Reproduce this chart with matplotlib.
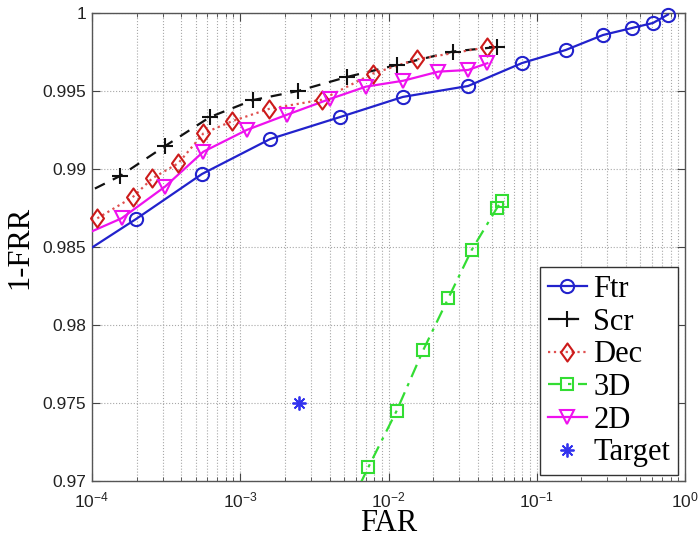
import matplotlib
matplotlib.use('Agg')
import matplotlib.pyplot as plt
from matplotlib.lines import Line2D
from matplotlib.ticker import LogLocator, FixedLocator, NullLocator, FuncFormatter
from matplotlib.path import Path
import numpy as np

# ---- data ----
ftr_far = [6.0e-5, 1.98e-4, 5.52e-4, 1.59e-3, 4.71e-3, 1.25e-2, 3.44e-2, 7.95e-2, 0.157, 0.280, 0.44, 0.608, 0.767]
ftr_val = [0.9836, 0.98679, 0.98968, 0.99192, 0.99333, 0.99462, 0.99532, 0.99679, 0.99763, 0.99859, 0.99904, 0.99936, 0.99990]

scr_far = [6.0e-5, 1.545e-4, 3.11e-4, 6.25e-4, 1.22e-3, 2.45e-3, 5.25e-3, 1.14e-2, 2.72e-2, 5.40e-2]
scr_val = [0.9876, 0.98955, 0.99147, 0.99333, 0.99442, 0.99500, 0.99590, 0.99667, 0.99753, 0.99782]

dec_far = [1.086e-4, 1.88e-4, 2.55e-4, 3.82e-4, 5.64e-4, 8.79e-4, 1.56e-3, 3.54e-3, 7.85e-3, 1.55e-2, 4.59e-2]
dec_val = [0.98684, 0.98819, 0.98940, 0.99037, 0.99228, 0.99306, 0.99385, 0.99444, 0.99612, 0.99703, 0.99780]

d3_far = [5.2e-3, 7.31e-3, 1.136e-2, 1.717e-2, 2.53e-2, 3.64e-2, 5.37e-2, 5.80e-2]
d3_val = [0.9680, 0.97088, 0.97451, 0.97840, 0.98171, 0.98481, 0.98748, 0.98797]

d2_far = [6.0e-5, 1.585e-4, 3.11e-4, 5.64e-4, 1.105e-3, 2.08e-3, 4.03e-3, 7.05e-3, 1.26e-2, 2.17e-2, 3.45e-2, 4.64e-2]
d2_val = [0.98508, 0.98684, 0.98887, 0.99111, 0.99250, 0.99349, 0.99449, 0.99528, 0.99566, 0.99624, 0.99635, 0.99678]

target_far = [2.5e-3]
target_val = [0.975]

labels = ['Ftr', 'Scr', 'Dec', '3D', '2D', 'Target']
yticks = [0.97, 0.975, 0.98, 0.985, 0.99, 0.995, 1.0]
xlim = (1e-4, 1.0)
ylim = (0.97, 1.0)

# ---- style ----
plt.rcParams['font.family'] = ['Liberation Sans', 'DejaVu Sans']
plt.rcParams['mathtext.default'] = 'regular'

diamond = Path([(0, 1), (0.72, 0), (0, -1), (-0.72, 0), (0, 1)],
               [Path.MOVETO, Path.LINETO, Path.LINETO, Path.LINETO, Path.CLOSEPOLY])

styles = [
    dict(color='#2222cc', ls='-', marker='o', ms=9.5),
    dict(color='#111111', ls=(0, (5, 4)), marker='+', ms=11),
    dict(color='#e05050', ls=':', marker=diamond, ms=13, mec='#cc1a1a'),
    dict(color='#33dd33', ls=(0, (6, 3, 1.5, 3)), marker='s', ms=8.5),
    dict(color='#ee11ee', ls='-', marker='v', ms=10),
]

fig = plt.figure(figsize=(6.99, 5.39), dpi=100)
ax = fig.add_axes([0.1316, 0.1076, 0.8484, 0.8683])
ax.set_xscale('log')
ax.set_xlim(*xlim)
ax.set_ylim(*ylim)

series = [(ftr_far, ftr_val), (scr_far, scr_val), (dec_far, dec_val),
          (d3_far, d3_val), (d2_far, d2_val)]

handles = []
for (fx, fy), st, lab in zip(series, styles, labels):
    fx = np.array(fx); fy = np.array(fy)
    mec = st.get('mec', st['color'])
    ax.plot(fx, fy, color=st['color'], ls=st['ls'], lw=1.6, clip_on=True, zorder=3)
    inside = (fx >= xlim[0]) & (fx <= xlim[1]) & (fy >= ylim[0]) & (fy <= ylim[1])
    ax.plot(fx[inside], fy[inside], ls='none', marker=st['marker'], ms=st['ms'],
            mfc='none', mec=mec, mew=1.5, clip_on=False, zorder=4)
    handles.append(Line2D([], [], color=st['color'], ls=st['ls'], lw=1.6,
                          marker=st['marker'], ms=st['ms'], mfc='none', mec=mec, mew=1.5))

ax.plot(target_far, target_val, ls='none', marker=(8, 2, 0), ms=10, mec='#3333ee',
        mew=1.3, zorder=4)
handles.append(Line2D([], [], ls='none', marker=(8, 2, 0), ms=10, mec='#3333ee', mew=1.3))

# ticks & grid
ax.xaxis.set_major_locator(LogLocator(base=10, numticks=10))
ax.xaxis.set_minor_locator(LogLocator(base=10, subs=np.arange(2, 10), numticks=20))
ax.yaxis.set_major_locator(FixedLocator(yticks))
ax.yaxis.set_minor_locator(NullLocator())
ax.yaxis.set_major_formatter(FuncFormatter(lambda v, p: '%g' % round(v, 4)))
ax.tick_params(which='both', direction='in', top=True, right=True, colors='#444444',
               labelcolor='#222222')
ax.tick_params(which='major', length=6, width=0.8, labelsize=12.5)
ax.tick_params(axis='x', which='major', pad=7)
ax.tick_params(axis='y', which='major', pad=4)
ax.tick_params(which='minor', length=3, width=0.6)
ax.grid(True, which='major', ls=':', color='#a8a8a8', lw=0.8)
ax.grid(True, which='minor', axis='x', ls=':', color='#a8a8a8', lw=0.8)
ax.set_axisbelow(True)
for sp in ax.spines.values():
    sp.set_color('#555555')
    sp.set_linewidth(1.0)

ax.set_xlabel('FAR', fontsize=22, family=['Liberation Serif', 'DejaVu Serif'], labelpad=-1)
ax.set_ylabel('1-FRR', fontsize=22, family=['Liberation Serif', 'DejaVu Serif'], labelpad=6)

leg = ax.legend(handles, labels, loc='lower right', bbox_to_anchor=(0.988, 0.013),
                borderaxespad=0, prop={'family': 'Liberation Serif', 'size': 22},
                handlelength=1.3, handletextpad=0.2, labelspacing=0.12,
                borderpad=0.25, fancybox=False, framealpha=1, edgecolor='#333333')
leg.get_frame().set_linewidth(1.0)

fig.savefig('out.png', dpi=100)
